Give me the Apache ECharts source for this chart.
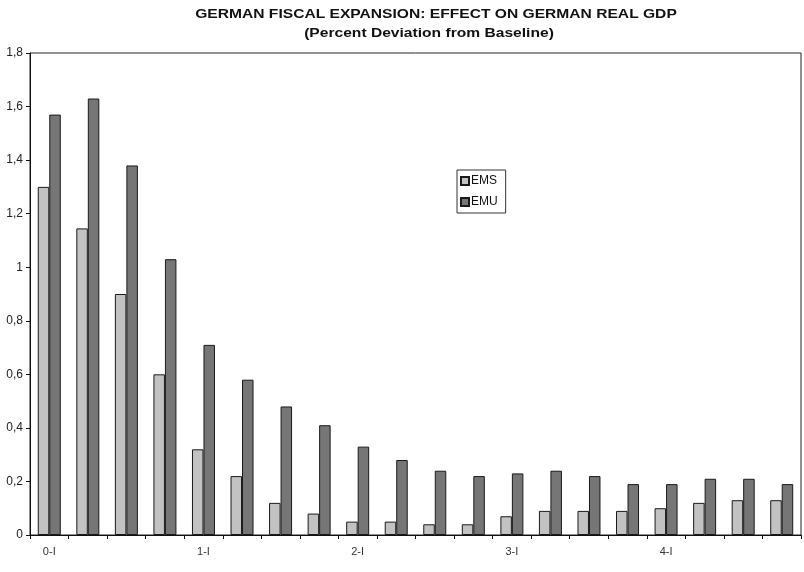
<!DOCTYPE html>
<html>
<head>
<meta charset="utf-8">
<script src="https://cdn.jsdelivr.net/npm/echarts@6/dist/echarts.min.js"></script>
<style>html,body{margin:0;padding:0;background:#fff;}#c{width:804px;height:572px;}</style>
</head>
<body>
<div id="c"></div>
<script>
var titleText = 'GERMAN FISCAL EXPANSION: EFFECT ON GERMAN REAL GDP';
var subtitleText = '(Percent Deviation from Baseline)';
var categories = ['0-I','0-II','0-III','0-IV','1-I','1-II','1-III','1-IV','2-I','2-II','2-III','2-IV','3-I','3-II','3-III','3-IV','4-I','4-II','4-III','4-IV'];
var emsValues = [1.30,1.145,0.90,0.60,0.32,0.22,0.12,0.08,0.05,0.05,0.04,0.04,0.07,0.09,0.09,0.09,0.10,0.12,0.13,0.13];
var emuValues = [1.57,1.63,1.38,1.03,0.71,0.58,0.48,0.41,0.33,0.28,0.24,0.22,0.23,0.24,0.22,0.19,0.19,0.21,0.21,0.19];
var yMin = 0, yMax = 1.8, yStep = 0.2;

var chart = echarts.init(document.getElementById('c'));
chart.setOption({
  backgroundColor: '#fff',
  animation: false,
  graphic: [
    {type:'text', x:436, y:15, scaleX:1.3, style:{text:titleText, font:'bold 12px "Liberation Sans", Arial, sans-serif', fill:'#111', textAlign:'center', textVerticalAlign:'middle'}},
    {type:'text', x:429, y:34, scaleX:1.3, style:{text:subtitleText, font:'bold 12px "Liberation Sans", Arial, sans-serif', fill:'#111', textAlign:'center', textVerticalAlign:'middle'}}
  ],
  legend: {
    orient: 'vertical', left: 457, top: 170,
    padding: [5, 8, 5, 3], itemGap: 9, itemWidth: 8, itemHeight: 8, icon: 'rect',
    borderColor: '#333', borderWidth: 1, backgroundColor: '#fff',
    textStyle: {fontFamily: '"Liberation Sans", Arial, sans-serif', fontSize: 12, color: '#111', padding: [0,0,0,-3]},
    data: ['EMS', 'EMU']
  },
  grid: {left: 30, right: 3, top: 53, bottom: 37, show: true, borderColor: '#222', borderWidth: 1},
  xAxis: {
    type: 'category', data: categories, boundaryGap: true,
    axisLine: {lineStyle: {color: '#111', width: 1}},
    axisTick: {show: true, interval: 0, length: 4, alignWithLabel: false, lineStyle: {color: '#111'}},
    axisLabel: {interval: 3, margin: 11, color: '#333', fontSize: 11, fontFamily: '"Liberation Sans", Arial, sans-serif'}
  },
  yAxis: {
    type: 'value', min: yMin, max: yMax, interval: yStep,
    splitLine: {show: false},
    axisLine: {show: true, lineStyle: {color: '#111', width: 1}},
    axisTick: {show: true, length: 4, lineStyle: {color: '#111'}},
    axisLabel: {margin: 7, color: '#222', fontSize: 12, fontFamily: '"Liberation Sans", Arial, sans-serif',
      formatter: function (v) { return String(Math.round(v * 10) / 10).replace('.', ','); }}
  },
  series: [
    {name: 'EMS', type: 'bar', data: emsValues, barWidth: 11.5, barGap: '0%',
      itemStyle: {color: '#c2c2c2', borderColor: '#1a1a1a', borderWidth: 1}},
    {name: 'EMU', type: 'bar', data: emuValues, barWidth: 11.5, barGap: '0%',
      itemStyle: {color: '#767676', borderColor: '#1a1a1a', borderWidth: 1}}
  ]
});
</script>
</body>
</html>
